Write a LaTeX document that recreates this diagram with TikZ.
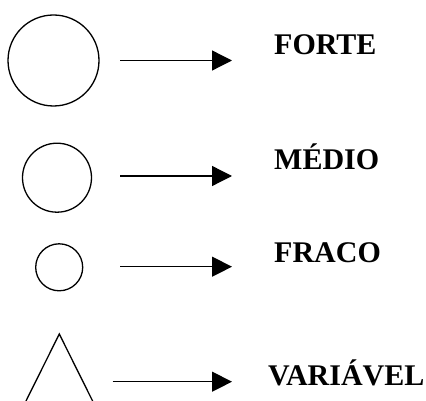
\documentclass[tikz,border=0pt]{standalone}
\usepackage{fontspec}
\setmainfont{Liberation Serif}
\usetikzlibrary{arrows.meta}
\begin{document}
\begin{tikzpicture}[x=1pt,y=-1pt,
  shape line/.style={line width=1.3pt},
  legend arrow/.style={line width=1.3pt,-{Triangle[length=20pt,width=20pt]}},
  label text/.style={anchor=base west,inner sep=0pt,font=\fontsize{30}{30}\selectfont\bfseries}]
\useasboundingbox (0,0) rectangle (426,401);
\begin{scope}
\clip (0,0) rectangle (426,401);
\draw[shape line] (53.5,60.5) circle (45.5);
\draw[shape line] (57,177.7) circle (34.5);
\draw[shape line] (59.2,267.3) circle (23.5);
\draw[shape line] (22.5,408) -- (59.3,334) -- (96.1,408);
\end{scope}
\coordinate (a1s) at (120,60.5);   \coordinate (a1e) at (232,60.5);
\coordinate (a2s) at (120,176);    \coordinate (a2e) at (232,176);
\coordinate (a3s) at (120,266.7);  \coordinate (a3e) at (232,266.7);
\coordinate (a4s) at (112.7,381.7);\coordinate (a4e) at (232,381.7);
\draw[legend arrow] (a1s) -- (a1e);
\draw[legend arrow] (a2s) -- (a2e);
\draw[legend arrow] (a3s) -- (a3e);
\draw[legend arrow] (a4s) -- (a4e);
\node[label text] (forte) at (274,55) {FORTE};
\node[label text] (medio) at (274,170) {MÉDIO};
\node[label text] (fraco) at (274,262) {FRACO};
\node[label text] (variavel) at (268,385) {VARIÁVEL};
\end{tikzpicture}
\end{document}
